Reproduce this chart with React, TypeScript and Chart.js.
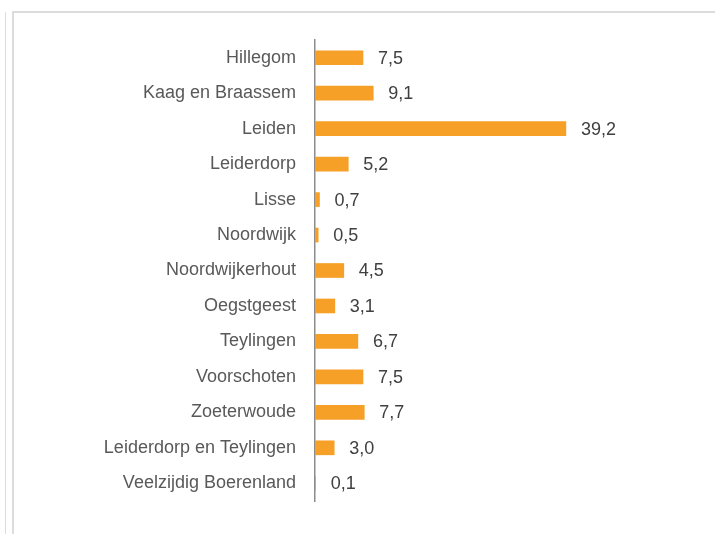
import React, { useEffect, useRef } from "react";
import { Chart, registerables } from "chart.js";

Chart.register(...registerables);

const categories = [
  "Hillegom",
  "Kaag en Braassem",
  "Leiden",
  "Leiderdorp",
  "Lisse",
  "Noordwijk",
  "Noordwijkerhout",
  "Oegstgeest",
  "Teylingen",
  "Voorschoten",
  "Zoeterwoude",
  "Leiderdorp en Teylingen",
  "Veelzijdig Boerenland",
];

const values = [7.5, 9.1, 39.2, 5.2, 0.7, 0.5, 4.5, 3.1, 6.7, 7.5, 7.7, 3.0, 0.1];

const FONT = "'Liberation Sans', Arial, sans-serif";

const valueLabels = {
  id: "valueLabels",
  afterDatasetsDraw(chart: any) {
    const ctx = chart.ctx;
    const meta = chart.getDatasetMeta(0);
    ctx.save();
    ctx.font = `18px ${FONT}`;
    ctx.fillStyle = "#404040";
    ctx.textAlign = "left";
    ctx.textBaseline = "middle";
    meta.data.forEach((bar: any, i: number) => {
      const v = values[i];
      ctx.fillText(v.toFixed(1).replace(".", ","), bar.x + 15, bar.y + 1);
    });
    ctx.restore();
  },
};

export default function App() {
  const ref = useRef<HTMLCanvasElement>(null);

  useEffect(() => {
    document.body.style.margin = "0";
    const chart = new Chart(ref.current!, {
      type: "bar",
      data: {
        labels: categories,
        datasets: [
          {
            data: values,
            backgroundColor: "#F7A028",
            barThickness: 14,
          },
        ],
      },
      options: {
        indexAxis: "y",
        animation: false,
        responsive: false,
        maintainAspectRatio: false,
        layout: { padding: { top: 40, bottom: 33, left: 0, right: 16 } },
        plugins: {
          legend: { display: false },
          tooltip: { enabled: false },
        },
        scales: {
          x: {
            display: false,
            min: 0,
            max: 60,
          },
          y: {
            afterFit: (scale: any) => {
              scale.width = 315;
            },
            grid: { display: false, drawTicks: false },
            border: { display: true, color: "#8c8c8c", width: 1.5 },
            ticks: {
              padding: 19,
              color: "#595959",
              font: { size: 18, family: FONT },
            },
          },
        },
      },
      plugins: [valueLabels],
    });
    return () => chart.destroy();
  }, []);

  return (
    <div style={{ position: "relative", width: 715, height: 534, overflow: "hidden", background: "#fff" }}>
      <div style={{ position: "absolute", left: 5, top: 12, width: 1, height: 534, background: "#dcdcdc" }} />
      <div
        style={{
          position: "absolute",
          left: 12,
          top: 11,
          width: 800,
          height: 600,
          borderTop: "2px solid #dcdcdc",
          borderLeft: "2px solid #dcdcdc",
        }}
      />
      <canvas ref={ref} width={715} height={534} style={{ position: "absolute", left: 0, top: 0 }} />
    </div>
  );
}
